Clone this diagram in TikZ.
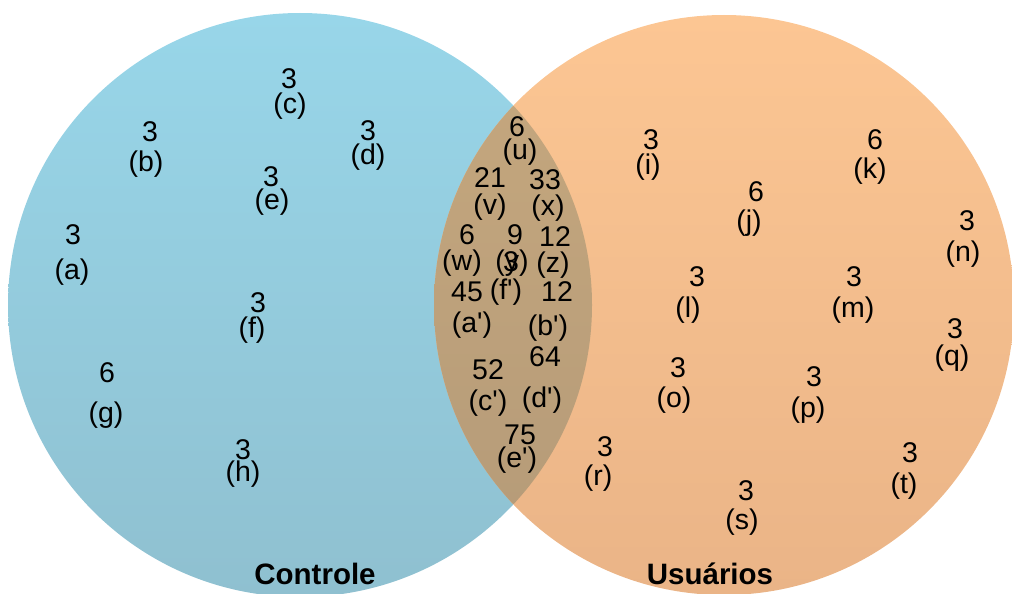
\documentclass[tikz,border=0pt]{standalone}
\usepackage{fontspec}
\setmainfont{Liberation Sans}
\definecolor{blueTop}{RGB}{152,214,233}
\definecolor{blueBot}{RGB}{143,192,208}
\definecolor{orangeTop}{RGB}{252,198,147}
\definecolor{orangeBot}{RGB}{234,180,135}
\definecolor{lensTop}{RGB}{198,168,126}
\definecolor{lensBot}{RGB}{180,154,120}
\begin{document}
\begin{tikzpicture}[x=1pt,y=-1pt,
  lbl/.style={inner sep=0pt, text=black, font=\fontsize{28.5}{28.5}\selectfont},
  settitle/.style={inner sep=0pt, text=black, font=\fontsize{29.5}{29.5}\selectfont\bfseries}]
\clip (0,0) rectangle (1012,594);
% the two sets
\shade[top color=blueTop, bottom color=blueBot] (300,305) circle[radius=292];
\shade[top color=orangeTop, bottom color=orangeBot] (724,305) circle[radius=290];
% their intersection
\begin{scope}
  \clip (300,305) circle[radius=292];
  \shade[top color=lensTop, bottom color=lensBot] (724,305) circle[radius=290];
\end{scope}
% counts and their labels
\foreach \id/\x/\y/\v/\lx/\ly/\lt in {
  a/73/235/3/72/272/a,
  b/150/132/3/146/164/b,
  c/289/79/3/290/106/c,
  d/368/131/3/368/157/d,
  e/271/177/3/272/202/e,
  f/258/303/3/252/330/f,
  g/107/373/6/106/415/g,
  h/243/450/3/243/474/h,
  i/651/140/3/648/167/i,
  j/756/192/6/749/223/j,
  k/875/140/6/870/171/k,
  l/697/277/3/688/310/l,
  m/854/277/3/853/310/m,
  n/967/221/3/963/254/n,
  o/678/368/3/674/400/o,
  p/814/377/3/808/410/p,
  q/955/329/3/952/358/q,
  r/605/447/3/598/478/r,
  s/746/491/3/742/522/s,
  t/910/453/3/904/486/t,
  u/517/127/6/520/152/u,
  v/490/178/21/490/207/v,
  x/545/180/33/548/208/x,
  w/467/235/6/462/263/w,
  y/515/235/9/512/263/y,
  z/555/237/12/553/265/z,
  fp/511/262/3/506/292/f\textquotesingle,
  ap/467/292/45/472/325/a\textquotesingle,
  bp/557/292/12/548/328/b\textquotesingle,
  cp/488/370/52/488/403/c\textquotesingle,
  dp/545/357/64/542/400/d\textquotesingle,
  ep/520/435/75/517/460/e\textquotesingle}
{
  \node[lbl] (c-\id) at (\x,\y) {\v};
  \node[lbl] (l-\id) at (\lx,\ly) {(\lt)};
}
% set names
\node[settitle] (controle) at (315,574) {Controle};
\node[settitle] (usuarios) at (710,574) {Usuários};
\end{tikzpicture}
\end{document}
